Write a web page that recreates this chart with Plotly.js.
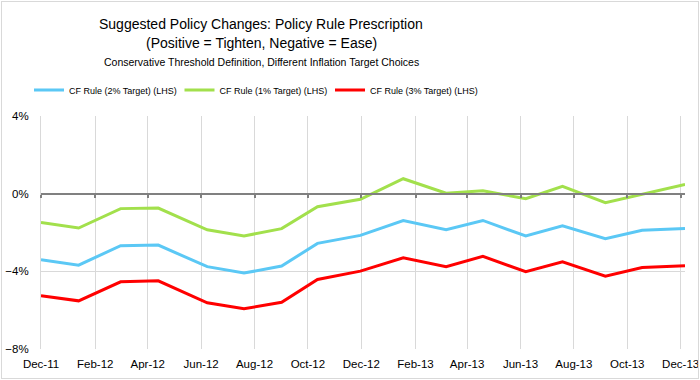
<!DOCTYPE html>
<html>
<head>
<meta charset="utf-8">
<script src="https://cdn.plot.ly/plotly-3.0.1.min.js"></script>
<style>
  html, body { margin: 0; padding: 0; background: #fff; }
  #wrap { position: relative; width: 700px; height: 380px; }
  #chart { width: 700px; height: 380px; }
  #frame { position: absolute; left: 1px; top: 1px; width: 696px; height: 376px;
           border: 1px solid #d9d9d9; pointer-events: none; }
</style>
</head>
<body>
<div id="wrap"><div id="chart"></div><div id="frame"></div></div>
<script>
// Meeting dates (FOMC)
const dates = ['2011-12-13','2012-01-25','2012-03-13','2012-04-25','2012-06-20','2012-08-01',
               '2012-09-13','2012-10-24','2012-12-12','2013-01-30','2013-03-20','2013-05-01',
               '2013-06-19','2013-07-31','2013-09-18','2013-10-30','2013-12-18'];
const rule2 = [-3.40,-3.68,-2.68,-2.65,-3.76,-4.09,-3.73,-2.56,-2.15,-1.38,-1.86,-1.38,-2.18,-1.65,-2.32,-1.89,-1.80];
const rule1 = [-1.49,-1.77,-0.77,-0.74,-1.86,-2.18,-1.80,-0.67,-0.29,0.77,0.02,0.15,-0.26,0.38,-0.46,-0.03,0.48];
const rule3 = [-5.26,-5.52,-4.54,-4.49,-5.62,-5.93,-5.59,-4.42,-3.99,-3.30,-3.76,-3.23,-4.02,-3.51,-4.25,-3.80,-3.71];
const seriesNames = ['CF Rule (2% Target) (LHS)','CF Rule (1% Target) (LHS)','CF Rule (3% Target) (LHS)'];
const titleLine1 = 'Suggested Policy Changes: Policy Rule Prescription';
const titleLine2 = '(Positive = Tighten, Negative = Ease)';
const subTitle = 'Conservative Threshold Definition, Different Inflation Target Choices';

const arial = 'Arial, "Liberation Sans", sans-serif';
const xRange = ['2011-12-13','2013-12-18'];

const traces = [
  {x: dates, y: rule2, name: seriesNames[0], type: 'scatter', mode: 'lines',
   line: {color: '#5BC8F5', width: 3}},
  {x: dates, y: rule1, name: seriesNames[1], type: 'scatter', mode: 'lines',
   line: {color: '#A2E04C', width: 3}},
  {x: dates, y: rule3, name: seriesNames[2], type: 'scatter', mode: 'lines',
   line: {color: '#FF0000', width: 3}},
  {x: [], y: [], xaxis: 'x2', yaxis: 'y', showlegend: false, hoverinfo: 'skip', type: 'scatter'}
];

const L = 41, R = 15, T = 116, B = 31;
const pw = 700 - L - R;
const ph = 380 - T - B;
const px = v => (v - L) / pw;
const py = v => 1 + (T - v) / ph;

const layout = {
  width: 700, height: 380,
  margin: {l: L, r: R, t: T, b: B, pad: 0},
  paper_bgcolor: '#fff', plot_bgcolor: '#fff',
  showlegend: true,
  legend: {orientation: 'h', x: px(29), xanchor: 'left', y: py(90), yanchor: 'middle',
           font: {family: arial, size: 9, color: '#000'},
           entrywidth: 105.5, entrywidthmode: 'pixels', itemwidth: 30,
           bgcolor: 'rgba(0,0,0,0)'},
  xaxis: {type: 'date', range: xRange, tick0: '2011-12-13', dtick: 'M2', tickformat: '%b-%y',
          showgrid: true, gridcolor: '#d9d9d9', gridwidth: 1, zeroline: false,
          showline: false, ticks: '', ticklabelstandoff: 6,
          tickfont: {family: arial, size: 11.5, color: '#000'}, fixedrange: true},
  xaxis2: {type: 'date', range: xRange, tick0: '2011-12-13', dtick: 'M2', overlaying: 'x',
           anchor: 'free', position: 2/3, showgrid: false, zeroline: false,
           showline: true, linecolor: '#808080', linewidth: 2,
           ticks: 'outside', ticklen: 3, tickcolor: '#808080', tickwidth: 2,
           showticklabels: false, fixedrange: true},
  yaxis: {range: [-8, 4], dtick: 4, tick0: 0, ticksuffix: '%', showgrid: true,
          gridcolor: '#d9d9d9', zeroline: false, showline: true, linecolor: '#d9d9d9',
          linewidth: 1, ticks: '', ticklabelstandoff: 9,
          tickfont: {family: arial, size: 11.5, color: '#000'}, fixedrange: true},
  annotations: [
    {text: titleLine1, xref: 'paper', yref: 'paper', x: px(261), y: py(24),
     xanchor: 'center', yanchor: 'middle', showarrow: false,
     font: {family: arial, size: 14, color: '#000'}},
    {text: titleLine2, xref: 'paper', yref: 'paper', x: px(261), y: py(43),
     xanchor: 'center', yanchor: 'middle', showarrow: false,
     font: {family: arial, size: 14, color: '#000'}},
    {text: subTitle, xref: 'paper', yref: 'paper', x: px(261), y: py(62),
     xanchor: 'center', yanchor: 'middle', showarrow: false,
     font: {family: arial, size: 10.5, color: '#000'}}
  ]
};

Plotly.newPlot('chart', traces, layout, {displayModeBar: false, staticPlot: true});
</script>
</body>
</html>
